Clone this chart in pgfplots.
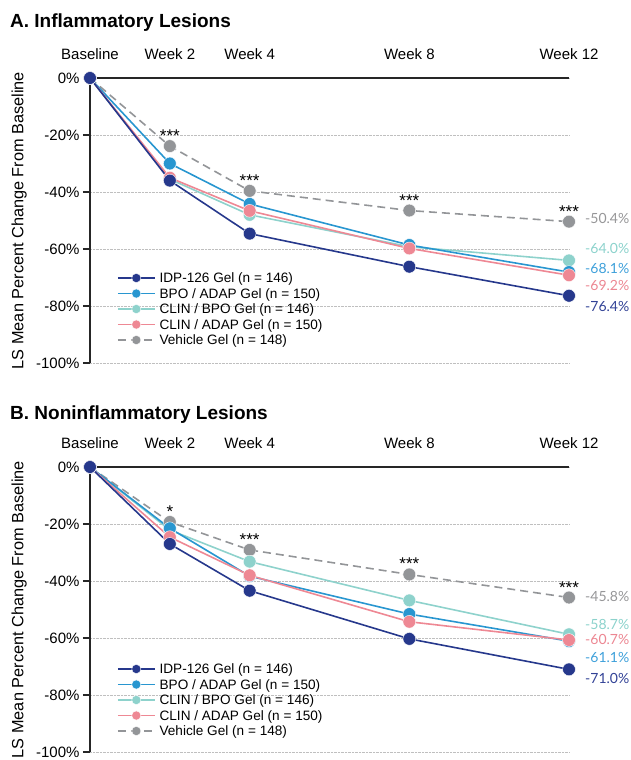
\documentclass[border=0pt]{standalone}
\usepackage{fontspec}
\setmainfont{Liberation Sans}
\newfontfamily\lato{Lato}
\usepackage{pgfplots}
\pgfplotsset{compat=1.18}

\definecolor{cNavy}{RGB}{38,56,140}
\definecolor{cBlue}{RGB}{40,150,208}
\definecolor{cTeal}{RGB}{142,210,204}
\definecolor{cPink}{RGB}{238,136,148}
\definecolor{cGray}{RGB}{147,149,152}
\definecolor{lNavy}{RGB}{50,66,150}
\definecolor{lBlue}{RGB}{62,160,218}
\definecolor{lTeal}{RGB}{140,210,204}
\definecolor{lPink}{RGB}{236,134,146}
\definecolor{lGray}{RGB}{150,150,152}

\tikzset{
  star/.style={anchor=base, inner sep=0pt, yshift=4.5pt, font=\fontsize{17}{20}\selectfont},
  val/.style={anchor=west, inner sep=0pt, xshift=16pt, font=\lato\fontsize{14}{16}\selectfont},
}

\pgfplotsset{
  panel/.style={
    scale only axis, width=479pt, height=285pt,
    xmin=0, xmax=12, ymin=-100, ymax=0,
    enlargelimits=false,
    axis x line=top, axis y line=left,
    axis line style={-, line width=1.1pt, black!85},
    xtick={0,2,4,8,12},
    xticklabels={Baseline,Week 2,Week 4,Week 8,Week 12},
    xtick style={draw=none},
    xticklabel style={yshift=8pt},
    ytick={-100,-80,-60,-40,-20,0},
    yticklabels={-100\%,-80\%,-60\%,-40\%,-20\%,0\%},
    ytick style={line width=1.1pt, black!85},
    tick align=outside, major tick length=7pt,
    ymajorgrids, grid style={densely dotted, black!25, line width=0.7pt},
    tick label style={font=\fontsize{15}{18}\selectfont},
    ylabel={LS Mean Percent Change From Baseline},
    ylabel style={font=\fontsize{16.3}{19}\selectfont, at={(axis description cs:-0.148,0.5)}, anchor=center},
    clip=false,
    legend cell align=left,
    legend style={draw=none, fill=none, inner sep=0pt, outer sep=0pt,
      row sep=0pt, font=\fontsize{13.6}{15}\selectfont,
      nodes={inner sep=0pt, text height=12.5pt, text depth=3pt},
      /tikz/every odd column/.append style={column sep=4pt}},
    legend image code/.code={
      \draw[mark repeat=2,mark phase=2,#1, mark size=4.6pt] plot coordinates {(0pt,0pt) (18.5pt,0pt) (37pt,0pt)};
    },
  },
  sNavy/.style={color=cNavy, line width=1.6pt, mark=*, mark size=6.4pt, mark options={solid, fill=cNavy, draw=white, line width=0.4pt}},
  sBlue/.style={color=cBlue, line width=1.6pt, mark=*, mark size=6.4pt, mark options={solid, fill=cBlue, draw=white, line width=0.4pt}},
  sTeal/.style={color=cTeal, line width=1.6pt, mark=*, mark size=6.4pt, mark options={solid, fill=cTeal, draw=white, line width=0.4pt}},
  sPink/.style={color=cPink, line width=1.6pt, mark=*, mark size=6.4pt, mark options={solid, fill=cPink, draw=white, line width=0.4pt}},
  sGray/.style={color=cGray, line width=1.6pt, dash pattern=on 8pt off 5pt, mark=*, mark size=6.4pt, mark options={solid, fill=cGray, draw=white, line width=0.4pt}},
}

\begin{document}
\begin{tikzpicture}
\useasboundingbox (0,0) rectangle (630pt,-760pt);

\node[anchor=base west, inner sep=0pt, font=\bfseries\fontsize{19}{22}\selectfont] at (10pt,-28pt) {A. Inflammatory Lesions};
\node[anchor=base west, inner sep=0pt, font=\bfseries\fontsize{19}{22}\selectfont] at (10pt,-419pt) {B. Noninflammatory Lesions};

% ---------------- Panel A ----------------
\begin{axis}[panel, at={(90pt,-78pt)}, anchor=north west,
  legend style={at={(axis description cs:0.0564,0.3254)}, anchor=north west}]
\addplot[sGray, forget plot] coordinates {(0,0)(2,-23.9)(4,-39.6)(8,-46.5)(12,-50.4)};
\addplot[sTeal, forget plot] coordinates {(0,0)(2,-35.5)(4,-48.0)(8,-59.2)(12,-64.0)};
\addplot[sBlue, forget plot] coordinates {(0,0)(2,-30.0)(4,-44.2)(8,-58.6)(12,-68.1)};
\addplot[sPink, forget plot] coordinates {(0,0)(2,-35.0)(4,-46.6)(8,-59.8)(12,-69.2)};
\addplot[sNavy, forget plot] coordinates {(0,0)(2,-36.0)(4,-54.6)(8,-66.2)(12,-76.4)};
\addlegendimage{sNavy}\addlegendentry{IDP-126 Gel (n = 146)}
\addlegendimage{sBlue}\addlegendentry{BPO / ADAP Gel (n = 150)}
\addlegendimage{sTeal}\addlegendentry{CLIN / BPO Gel (n = 146)}
\addlegendimage{sPink}\addlegendentry{CLIN / ADAP Gel (n = 150)}
\addlegendimage{sGray}\addlegendentry{Vehicle Gel (n = 148)}
\node[star] at (axis cs:2,-23.9) {***};
\node[star] at (axis cs:4,-39.6) {***};
\node[star] at (axis cs:8,-46.5) {***};
\node[star] at (axis cs:12,-50.4) {***};
\node[val, text=lGray] at (axis cs:12,-49.2) {-50.4\%};
\node[val, text=lTeal] at (axis cs:12,-59.8) {-64.0\%};
\node[val, text=lBlue] at (axis cs:12,-66.8) {-68.1\%};
\node[val, text=lPink] at (axis cs:12,-72.9) {-69.2\%};
\node[val, text=lNavy] at (axis cs:12,-80.0) {-76.4\%};
\end{axis}

% ---------------- Panel B ----------------
\begin{axis}[panel, at={(90pt,-467pt)}, anchor=north west,
  legend style={at={(axis description cs:0.0564,0.3184)}, anchor=north west}]
\addplot[sGray, forget plot] coordinates {(0,0)(2,-19.3)(4,-29.1)(8,-37.7)(12,-45.8)};
\addplot[sTeal, forget plot] coordinates {(0,0)(2,-22.1)(4,-33.2)(8,-46.8)(12,-58.7)};
\addplot[sBlue, forget plot] coordinates {(0,0)(2,-21.5)(4,-38.3)(8,-51.6)(12,-61.1)};
\addplot[sPink, forget plot] coordinates {(0,0)(2,-24.6)(4,-38.0)(8,-54.3)(12,-60.7)};
\addplot[sNavy, forget plot] coordinates {(0,0)(2,-27.0)(4,-43.4)(8,-60.3)(12,-71.0)};
\addlegendimage{sNavy}\addlegendentry{IDP-126 Gel (n = 146)}
\addlegendimage{sBlue}\addlegendentry{BPO / ADAP Gel (n = 150)}
\addlegendimage{sTeal}\addlegendentry{CLIN / BPO Gel (n = 146)}
\addlegendimage{sPink}\addlegendentry{CLIN / ADAP Gel (n = 150)}
\addlegendimage{sGray}\addlegendentry{Vehicle Gel (n = 148)}
\node[star] at (axis cs:2,-19.3) {*};
\node[star] at (axis cs:4,-29.1) {***};
\node[star] at (axis cs:8,-37.7) {***};
\node[star] at (axis cs:12,-45.8) {***};
\node[val, text=lGray] at (axis cs:12,-45.6) {-45.8\%};
\node[val, text=lTeal] at (axis cs:12,-55.4) {-58.7\%};
\node[val, text=lPink] at (axis cs:12,-60.5) {-60.7\%};
\node[val, text=lBlue] at (axis cs:12,-66.9) {-61.1\%};
\node[val, text=lNavy] at (axis cs:12,-74.3) {-71.0\%};
\end{axis}
\end{tikzpicture}
\end{document}
